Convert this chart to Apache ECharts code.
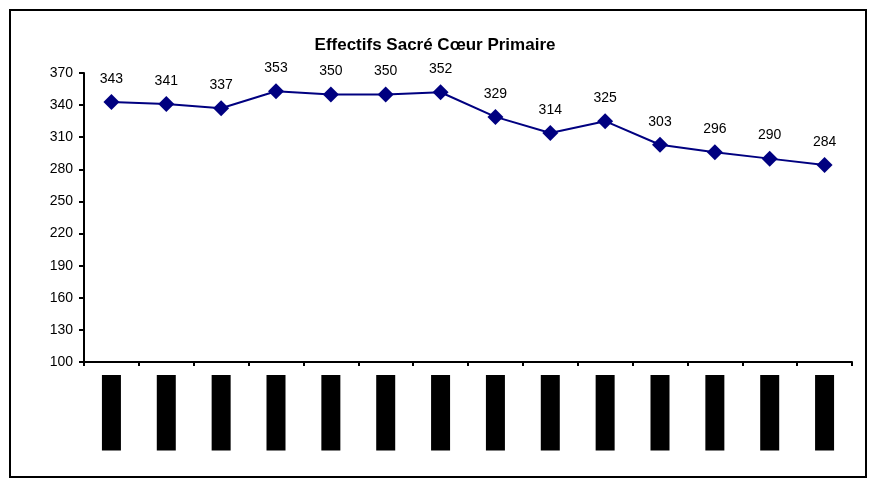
<!DOCTYPE html>
<html><head><meta charset="utf-8">
<script src="https://cdn.jsdelivr.net/npm/echarts@6/dist/echarts.min.js"></script>
<style>html,body{margin:0;padding:0;background:#fff}#c{width:870px;height:489px}</style>
</head><body><div id="c"></div>
<script>
const categories = ['1993-1994','1994-1995','1995-1996','1996-1997','1997-1998','1998-1999','1999-2000','2000-2001','2001-2002','2002-2003','2003-2004','2004-2005','2005-2006','2006-2007'];
const effectifs = [343, 341, 337, 353, 350, 350, 352, 329, 314, 325, 303, 296, 290, 284];
const yTicks = [100, 130, 160, 190, 220, 250, 280, 310, 340, 370];

const chart = echarts.init(document.getElementById('c'), null, {renderer: 'canvas'});
chart.setOption({
  animation: false,
  backgroundColor: '#fff',
  title: {
    text: 'Effectifs Sacré Cœur Primaire',
    left: 'center', top: 32,
    textStyle: {fontFamily: 'Liberation Sans, Arial', fontWeight: 'bold', fontSize: 17, color: '#000'}
  },
  graphic: [{type: 'rect', shape: {x: 10, y: 10, width: 856, height: 467},
    style: {fill: 'none', stroke: '#000', lineWidth: 2}, silent: true}],
  grid: {left: 84, right: 18, top: 73, bottom: 127, containLabel: false},
  xAxis: {
    type: 'category', data: categories, boundaryGap: true,
    axisLine: {lineStyle: {color: '#000', width: 2}},
    axisTick: {show: true, length: 4, lineStyle: {color: '#000', width: 2}},
    axisLabel: {rotate: 90, margin: 13, color: '#000', backgroundColor: '#000',
      fontFamily: 'Liberation Sans, Arial', fontSize: 12, padding: [4, 9, 3, 9]},
    splitLine: {show: false}
  },
  yAxis: {
    type: 'value', min: 100, max: 370,
    axisLine: {show: true, lineStyle: {color: '#000', width: 2}},
    axisTick: {show: true, length: 5, customValues: yTicks, lineStyle: {color: '#000', width: 2}},
    axisLabel: {customValues: yTicks, color: '#000', fontFamily: 'Liberation Sans, Arial', fontSize: 14, margin: 11},
    splitLine: {show: false}
  },
  series: [{
    type: 'line', data: effectifs,
    symbol: 'diamond', symbolSize: 16,
    lineStyle: {color: '#000080', width: 2},
    itemStyle: {color: '#000080'},
    label: {show: true, position: 'top', distance: 8, color: '#000',
      fontFamily: 'Liberation Sans, Arial', fontSize: 14}
  }]
});
</script></body></html>
